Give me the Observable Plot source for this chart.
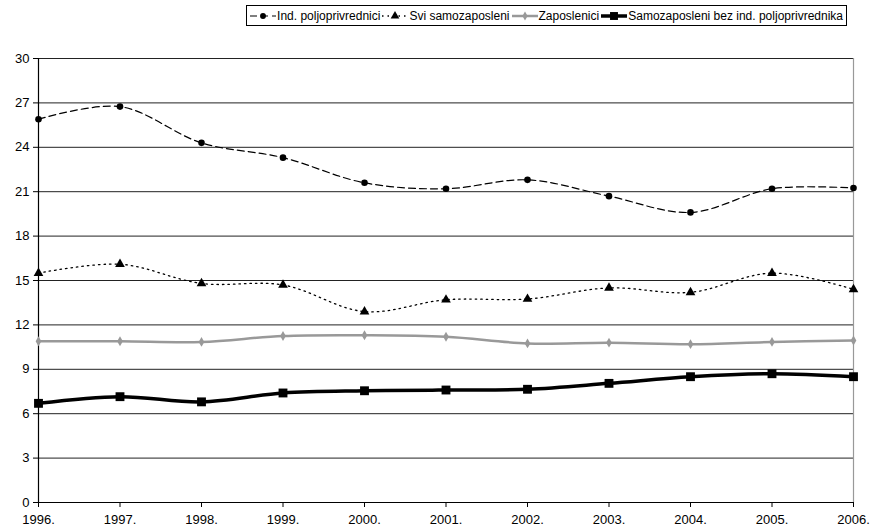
<!DOCTYPE html>
<html><head><meta charset="utf-8">
<script src="https://cdn.jsdelivr.net/npm/d3@7"></script>
<script src="https://cdn.jsdelivr.net/npm/@observablehq/plot@0.6"></script>
<style>
body{margin:0;background:#fff;font-family:"Liberation Sans",Arial,sans-serif;}
#legend{position:absolute;right:24px;top:5px;height:21px;border:1px solid #000;display:flex;align-items:center;font-size:12px;color:#000;white-space:nowrap;box-sizing:border-box;padding:0 3px 0 2px;}
#legend .it{display:flex;align-items:center;margin-right:1px;}
#legend .it:last-child{margin-right:0;}
#legend svg{margin-right:0px;}
#chart{position:absolute;left:0;top:30px;}
</style></head>
<body>
<div id="legend"></div>
<div id="chart"></div>
<script>
const years = [1996,1997,1998,1999,2000,2001,2002,2003,2004,2005,2006];
const seriesNames = ["Ind. poljoprivrednici","Svi samozaposleni","Zaposlenici","Samozaposleni bez ind. poljoprivrednika"];
const indPoljo = [25.9,26.75,24.3,23.3,21.6,21.2,21.8,20.7,19.6,21.2,21.25];
const sviSamo = [15.5,16.1,14.8,14.7,12.9,13.7,13.75,14.5,14.2,15.5,14.4];
const zaposlenici = [10.9,10.9,10.85,11.25,11.3,11.2,10.75,10.8,10.7,10.85,10.95];
const samoBez = [6.7,7.15,6.8,7.4,7.55,7.6,7.65,8.05,8.5,8.7,8.5];
const yTicks = [0,3,6,9,12,15,18,21,24,27,30];

const styles = [
  {stroke:"#000", sw:1.2, dash:"7,4", symbol:"circle", r:3.3, fill:"#000"},
  {stroke:"#000", sw:1.3, dash:"1.5,4", symbol:"triangle", r:3.6, fill:"#000"},
  {stroke:"#999", sw:2.5, dash:null, symbol:"diamond", r:3, fill:"#999"},
  {stroke:"#000", sw:3.5, dash:null, symbol:"square", r:5, fill:"#000"}
];
const allSeries = [indPoljo, sviSamo, zaposlenici, samoBez];

const marks = [
  Plot.ruleY(yTicks.filter(d=>d>0), {stroke:"#222", strokeWidth:1}),
  Plot.ruleX([2006], {stroke:"#999", strokeWidth:1.2}),
  Plot.ruleX([1996], {stroke:"#000", strokeWidth:1.2}),
  Plot.ruleY([0], {stroke:"#000", strokeWidth:1.2}),
  Plot.axisY({ticks:yTicks, tickSize:5, tickPadding:4, fontSize:13, label:null, tickFormat:d=>String(d)}),
  Plot.axisX({ticks:years, tickSize:5, tickPadding:7, fontSize:13, label:null, tickFormat:d=>d+"."})
];
allSeries.forEach((vals,i)=>{
  const s = styles[i];
  const data = years.map((y,j)=>({year:y, value:vals[j]}));
  marks.push(Plot.line(data,{x:"year",y:"value",stroke:s.stroke,strokeWidth:s.sw,strokeDasharray:s.dash,curve:"catmull-rom"}));
  marks.push(Plot.dot(data,{x:"year",y:"value",symbol:s.symbol,r:s.r,fill:s.fill,stroke:"none"}));
});

const chart = Plot.plot({
  width:871, height:500, marginTop:28, marginBottom:28, marginLeft:38, marginRight:18,
  style:{fontFamily:"Liberation Sans, Arial, sans-serif", fontSize:"13px", color:"#000", background:"#fff", overflow:"visible"},
  x:{domain:[1996,2006], label:null},
  y:{domain:[0,30], label:null},
  marks
});
document.getElementById("chart").appendChild(chart);

// legend
const leg = d3.select("#legend");
seriesNames.forEach((name,i)=>{
  const s = styles[i];
  const it = leg.append("div").attr("class","it");
  const sv = it.append("svg").attr("width",28).attr("height",12);
  sv.append("line").attr("x1",1).attr("x2",27).attr("y1",6).attr("y2",6)
    .attr("stroke",s.stroke).attr("stroke-width",s.sw).attr("stroke-dasharray",s.dash);
  const sym = {circle:d3.symbolCircle,triangle:d3.symbolTriangle,diamond:d3.symbolDiamond,square:d3.symbolSquare}[s.symbol];
  const area = Math.PI*s.r*s.r;
  sv.append("path").attr("d",d3.symbol(sym, area*0.8)()).attr("transform","translate(14,6)").attr("fill",s.fill);
  it.append("span").text(name);
});
</script>
</body></html>
